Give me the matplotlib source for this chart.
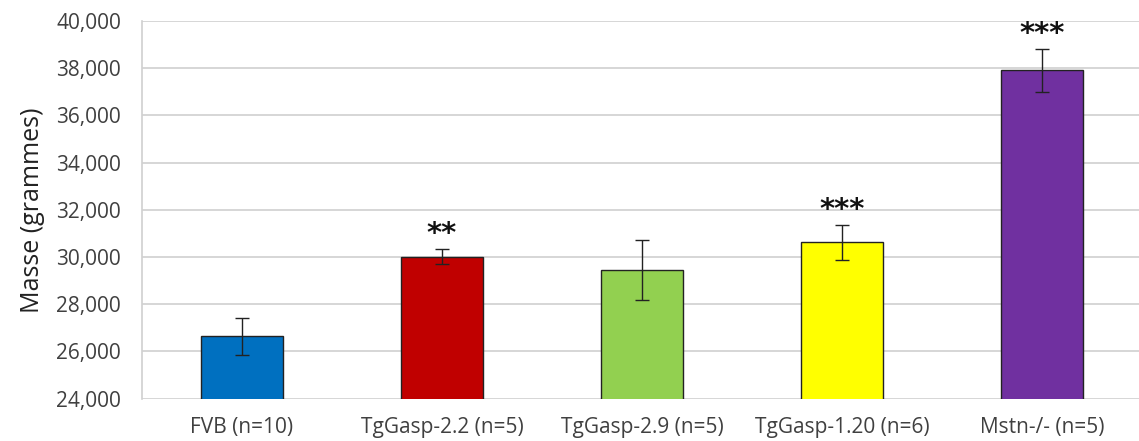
import matplotlib.pyplot as plt
import numpy as np
from matplotlib.ticker import FuncFormatter

# Masse des souris par lignée
groups = ['FVB (n=10)', 'TgGasp-2.2 (n=5)', 'TgGasp-2.9 (n=5)',
          'TgGasp-1.20 (n=6)', 'Mstn-/- (n=5)']
masse = [26640, 30015, 29440, 30620, 37910]
erreur = [790, 320, 1265, 730, 905]
signif = ['', '**', '', '***', '***']
colors = ['#0070C0', '#C00000', '#92D050', '#FFFF00', '#7030A0']

plt.rcParams['font.family'] = ['Open Sans', 'DejaVu Sans']

fig = plt.figure(figsize=(11.39, 4.41), dpi=100)
ax = fig.add_axes([142 / 1139, 1 - 398.7 / 441, 1000 / 1139, (398.7 - 21) / 441])

x = np.arange(len(groups))
ax.bar(x, masse, width=0.41, color=colors, edgecolor='#222222', linewidth=1.0, zorder=2)
ax.errorbar(x, masse, yerr=erreur, fmt='none', ecolor='#222222', elinewidth=1.0,
            capsize=5, capthick=1.0, zorder=3)

for xi, m, e, s in zip(x, masse, erreur, signif):
    if s:
        ax.annotate(s, (xi, m + e), xytext=(0, 1), textcoords='offset points',
                    ha='center', va='bottom', fontsize=21, fontweight='bold',
                    color='#111111', family='DejaVu Sans')

ax.set_xlim(-0.5, len(groups) - 0.5)
ax.set_ylim(24000, 40000)
ax.set_yticks(np.arange(24000, 40001, 2000))
ax.yaxis.set_major_formatter(FuncFormatter(lambda v, p: f'{v:,.0f}'))
ax.set_xticks(x)
ax.set_xticklabels(groups)

ax.grid(axis='y', color='#d0d0d0', linewidth=1.2, zorder=0)
ax.set_axisbelow(True)
for side in ['top', 'right', 'bottom']:
    ax.spines[side].set_visible(False)
ax.spines['left'].set_color('#d0d0d0')
ax.spines['left'].set_linewidth(1.2)

ax.tick_params(axis='y', length=0, pad=15, labelsize=15, labelcolor='#404040')
ax.tick_params(axis='x', length=0, pad=13, labelsize=15, labelcolor='#404040')
ax.set_ylabel('Masse (grammes)', fontsize=18, color='#222222', labelpad=8)

fig.savefig('out.png', dpi=100)
